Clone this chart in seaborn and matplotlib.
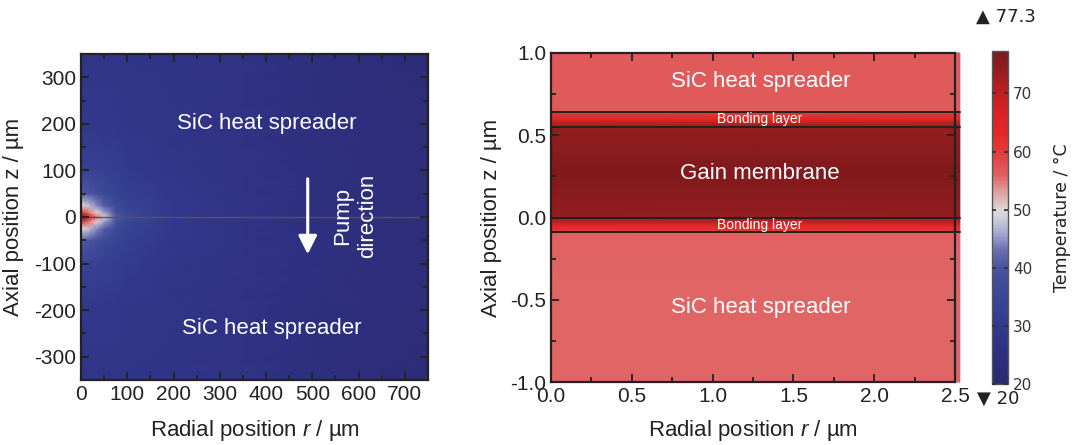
import numpy as np
import matplotlib
matplotlib.use("Agg")
import matplotlib.pyplot as plt
import seaborn as sns
from matplotlib.colors import LinearSegmentedColormap, Normalize
from matplotlib.ticker import MultipleLocator

# ---- data ----
# left panel: temperature (degC) on a coarse r/z grid (um)
r_left = [0, 10, 20, 35, 50, 75, 100, 200, 350, 500, 650, 750]
z_left = [-350, -200, -100, -50, -25, -10, 0, 10, 25, 50, 100, 200, 350]
T_left = [
    [28.0, 28.0, 28.0, 28.0, 28.0, 28.0, 28.0, 27.5, 26.5, 25.0, 23.5, 22.5],
    [29.0, 29.0, 29.0, 29.0, 29.0, 29.0, 28.5, 28.0, 26.5, 25.0, 24.0, 23.0],
    [33.5, 33.5, 33.5, 33.0, 32.5, 31.5, 30.5, 28.5, 27.0, 25.5, 24.0, 23.0],
    [41.0, 40.5, 39.5, 38.0, 36.5, 34.5, 32.5, 29.0, 27.0, 25.5, 24.0, 23.0],
    [50.0, 49.0, 47.0, 44.0, 41.0, 37.0, 34.0, 29.5, 27.0, 25.5, 24.0, 23.0],
    [60.0, 58.0, 54.0, 50.0, 45.5, 39.0, 35.0, 29.5, 27.0, 25.5, 24.0, 23.0],
    [77.0, 72.0, 64.0, 55.0, 49.0, 41.0, 36.0, 30.0, 27.0, 25.5, 24.0, 23.0],
    [60.0, 58.0, 54.0, 50.0, 45.5, 39.0, 35.0, 29.5, 27.0, 25.5, 24.0, 23.0],
    [50.0, 49.0, 47.0, 44.0, 41.0, 37.0, 34.0, 29.5, 27.0, 25.5, 24.0, 23.0],
    [41.0, 40.5, 39.5, 38.0, 36.5, 34.5, 32.5, 29.0, 27.0, 25.5, 24.0, 23.0],
    [33.5, 33.5, 33.5, 33.0, 32.5, 31.5, 30.5, 28.5, 27.0, 25.5, 24.0, 23.0],
    [29.0, 29.0, 29.0, 29.0, 29.0, 29.0, 28.5, 28.0, 26.5, 25.0, 24.0, 23.0],
    [28.0, 28.0, 28.0, 28.0, 28.0, 28.0, 28.0, 27.5, 26.5, 25.0, 23.5, 22.5],
]

# right panel: axial temperature profile through the layer stack (um, degC)
r_right = [0.0, 2.53]
z_right = [-1.0, -0.5, -0.092, -0.088, -0.045, 0.0, 0.275, 0.55, 0.595,
           0.638, 0.642, 1.0]
T_right = [55.7, 55.8, 56.0, 60.5, 65.0, 74.0, 76.6, 74.0, 65.0, 60.5, 56.7, 56.7]
layer_lines = [-0.09, 0.0, 0.55, 0.64]

T_min, T_max = 20.0, 77.3
cbar_ticks = [20, 30, 40, 50, 60, 70]

# colour map
cmap_vals = [20, 25, 30, 35, 40, 43, 46, 49, 50, 53, 56, 60, 63, 66, 70, 74, 77.3]
cmap_cols = ["#2b2a70", "#2f2f80", "#323a8e", "#384796", "#4a539f", "#6a6db3",
             "#a8a8d2", "#d4d4dc", "#dcd6d6", "#e0a0a0", "#e06060", "#e23c3c",
             "#e52828", "#dc2424", "#c21f22", "#961c1f", "#7a1a1c"]

# ---- style ----
sns.set_theme(style="ticks")
plt.rcParams["font.family"] = ["Liberation Sans", "DejaVu Sans"]
plt.rcParams["mathtext.fontset"] = "custom"
plt.rcParams["mathtext.it"] = "Liberation Sans:italic"
plt.rcParams["mathtext.rm"] = "Liberation Sans"
plt.rcParams["axes.unicode_minus"] = False
plt.rcParams["axes.axisbelow"] = False

pos = [(v - T_min) / (T_max - T_min) for v in cmap_vals]
cmap = LinearSegmentedColormap.from_list("temp", list(zip(pos, cmap_cols)))
norm = Normalize(T_min, T_max)

fig = plt.figure(figsize=(10.83, 4.45), dpi=100)
W, H = 1083, 445
def px_axes(l, t, r, b):
    return fig.add_axes([l / W, 1 - b / H, (r - l) / W, (b - t) / H])

ax1 = px_axes(81, 54, 428, 380)
ax2 = px_axes(551, 53, 955, 382)
cax = px_axes(992, 51, 1008, 384)

fs = 15
dark = "#222222"

def style_axes(ax, xmaj, xmin, ymaj, ymin):
    ax.set_axisbelow(False)
    ax.xaxis.set_major_locator(MultipleLocator(xmaj))
    ax.xaxis.set_minor_locator(MultipleLocator(xmin))
    ax.yaxis.set_major_locator(MultipleLocator(ymaj))
    ax.yaxis.set_minor_locator(MultipleLocator(ymin))
    ax.tick_params(which="both", direction="in", top=True, right=True,
                   colors=dark, labelsize=fs, width=1.3)
    ax.tick_params(which="major", length=6)
    ax.tick_params(which="minor", length=3.5)
    for s in ax.spines.values():
        s.set_linewidth(1.6)
        s.set_color(dark)
        s.set_zorder(5)

# left panel
R, Z = np.meshgrid(r_left, z_left)
mesh = ax1.pcolormesh(R, Z, np.array(T_left), cmap=cmap, norm=norm,
                      shading="gouraud", rasterized=True)
ax1.axhline(0, color="#555555", lw=1.0)
ax1.set_xlim(0, 750)
ax1.set_ylim(-350, 350)
style_axes(ax1, 100, 50, 100, 50)
ax1.set_xlabel("Radial position $\\mathit{r}$ / µm", fontsize=16, color=dark, labelpad=10)
ax1.set_ylabel("Axial position z / µm", fontsize=16, color=dark, labelpad=7)
ax1.text(402, 200, "SiC heat spreader", color="white", fontsize=16, ha="center", va="center")
ax1.text(412, -240, "SiC heat spreader", color="white", fontsize=16, ha="center", va="center")
ax1.annotate("", xy=(490, -80), xytext=(490, 82),
             arrowprops=dict(arrowstyle="-|>", color="white", lw=2.2,
                             mutation_scale=28, shrinkA=0, shrinkB=0))
ax1.text(592, 2, "Pump\ndirection", color="white", fontsize=16, rotation=90,
         ha="center", va="center", multialignment="center", linespacing=1.25)

# right panel
R2, Z2 = np.meshgrid(r_right, z_right)
T2 = np.tile(np.array(T_right)[:, None], (1, len(r_right)))
mesh2 = ax2.pcolormesh(R2, Z2, T2, cmap=cmap, norm=norm, shading="gouraud",
                       rasterized=True, clip_on=False)
for zl in layer_lines:
    ax2.plot([0, 2.53], [zl, zl], color=dark, lw=1.4, clip_on=False)
ax2.set_xlim(0, 2.5)
ax2.set_ylim(-1, 1)
style_axes(ax2, 0.5, 0.25, 0.5, 0.25)
ax2.set_xlabel("Radial position $\\mathit{r}$ / µm", fontsize=16, color=dark, labelpad=9)
ax2.set_ylabel("Axial position z / µm", fontsize=16, color=dark, labelpad=6)
ax2.text(1.3, 0.826, "SiC heat spreader", color="white", fontsize=16, ha="center", va="center")
ax2.text(1.29, 0.60, "Bonding layer", color="white", fontsize=10, ha="center", va="center")
ax2.text(1.29, 0.27, "Gain membrane", color="white", fontsize=16, ha="center", va="center")
ax2.text(1.29, -0.045, "Bonding layer", color="white", fontsize=10, ha="center", va="center")
ax2.text(1.3, -0.55, "SiC heat spreader", color="white", fontsize=16, ha="center", va="center")

# colour bar
cb = fig.colorbar(mesh, cax=cax, ticks=cbar_ticks)
cb.outline.set_edgecolor("#555555")
cb.outline.set_linewidth(1.0)
cax.tick_params(direction="in", length=3, left=True, right=True, labelsize=11,
                labelfontfamily="DejaVu Sans", colors="#333333")
cb.set_label("Temperature / °C", fontsize=12.5, family="DejaVu Sans",
             color="#222222", labelpad=15)
fig.text(1006 / W, 1 - 17 / H, "▲ 77.3", fontsize=13, family="DejaVu Sans",
         ha="center", va="center", color="#222222")
fig.text(998 / W, 1 - 399 / H, "▼ 20", fontsize=13, family="DejaVu Sans",
         ha="center", va="center", color="#222222")

fig.savefig("out.png", dpi=100)
